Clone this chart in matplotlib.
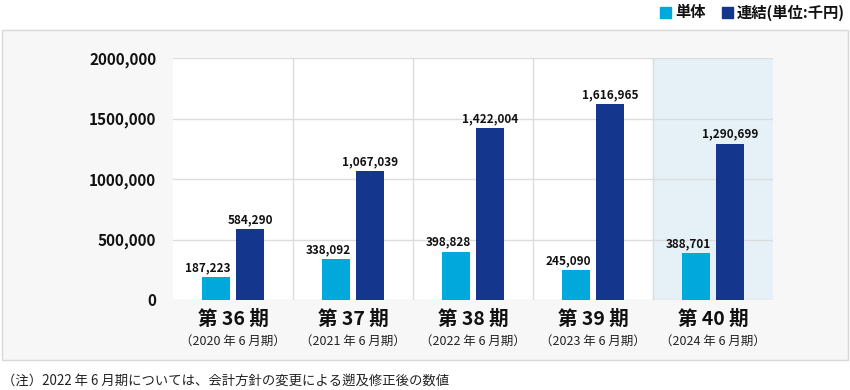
import matplotlib.pyplot as plt
from matplotlib.patches import Rectangle
import numpy as np

plt.rcParams['font.family'] = ['Noto Sans CJK JP', 'DejaVu Sans']

# データ（単位：千円）
periods = ['第 36 期', '第 37 期', '第 38 期', '第 39 期', '第 40 期']
years = ['（2020 年 6 月期）', '（2021 年 6 月期）', '（2022 年 6 月期）',
         '（2023 年 6 月期）', '（2024 年 6 月期）']
tantai = [187223, 338092, 398828, 245090, 388701]
renketsu = [584290, 1067039, 1422004, 1616965, 1290699]
yticks = [0, 500000, 1000000, 1500000, 2000000]
ylabels = ['0', '500,000', '1000,000', '1500,000', '2000,000']

c_light = '#00a8dc'
c_dark = '#14368c'

fig = plt.figure(figsize=(8.5, 3.9), dpi=100)
fig.patch.set_facecolor('white')
# 外枠
fig.patches.append(Rectangle((2 / 850, 1 - 360 / 390), 846 / 850, 330 / 390,
                             transform=fig.transFigure, facecolor='#f7f7f7',
                             edgecolor='#d8d8d8', lw=1, zorder=-5))

ax = fig.add_axes([173 / 850, 1 - 300 / 390, 600 / 850, 242 / 390])
ax.set_facecolor('white')
x = np.arange(len(periods))
ax.set_xlim(-0.5, len(periods) - 0.5)
ax.set_ylim(0, 2000000)

# 最新期の背景
ax.axvspan(len(periods) - 1.5, len(periods) - 0.5, color='#e5f1f7', zorder=0)

for y in yticks:
    ax.axhline(y, color='#dcdcdc', lw=1, zorder=1)
for xv in x[:-1] + 0.5:
    ax.axvline(xv, color='#dcdcdc', lw=1, zorder=1)

w = 0.235
off = 0.142
b1 = ax.bar(x - off, tantai, w, color=c_light, zorder=3)
b2 = ax.bar(x + off, renketsu, w, color=c_dark, zorder=3)
for b, v in zip(b1, tantai):
    ax.text(b.get_x() + b.get_width() + 0.005, v + 25000, f'{v:,}',
            ha='right', va='bottom', fontsize=8.5, fontweight='bold',
            color='#111111', zorder=4)
for b, v in zip(b2, renketsu):
    ax.text(b.get_x() + b.get_width() / 2, v + 25000, f'{v:,}',
            ha='center', va='bottom', fontsize=8.5, fontweight='bold',
            color='#111111', zorder=4)

for s in ax.spines.values():
    s.set_visible(False)
ax.tick_params(length=0)
ax.set_yticks(yticks)
ax.set_yticklabels(ylabels, fontsize=11, fontweight='bold', color='#111111')
ax.tick_params(axis='y', pad=12)
ax.set_xticks([])

for i in range(len(periods)):
    ax.text(i, -0.04, periods[i], transform=ax.get_xaxis_transform(),
            ha='center', va='top', fontsize=14, fontweight='bold', color='#111111')
    ax.text(i, -0.145, years[i], transform=ax.get_xaxis_transform(),
            ha='center', va='top', fontsize=9, color='#222222')

# 凡例
fig.patches.append(Rectangle((660 / 850, 1 - 18 / 390), 11 / 850, 11 / 390,
                             transform=fig.transFigure, color=c_light))
fig.text(675 / 850, 1 - 12.5 / 390, '単体', fontsize=11, fontweight='bold',
         va='center', color='#111111')
fig.patches.append(Rectangle((722 / 850, 1 - 18 / 390), 11 / 850, 11 / 390,
                             transform=fig.transFigure, color=c_dark))
fig.text(737 / 850, 1 - 12.5 / 390, '連結(単位:千円)', fontsize=11,
         fontweight='bold', va='center', color='#111111')

fig.text(2 / 850, 1 - 381 / 390, '（注）2022 年 6 月期については、会計方針の変更による遡及修正後の数値',
         fontsize=9.6, va='center', color='#222222')

fig.savefig('out.png', dpi=100)
